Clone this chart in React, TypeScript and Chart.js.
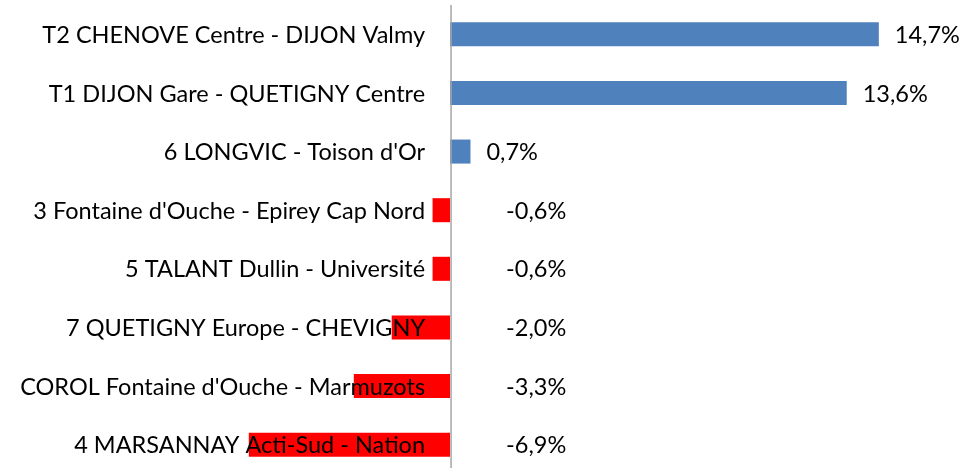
import React, { useEffect, useRef } from "react";
import { Chart, registerables } from "chart.js";

Chart.register(...registerables);

const categories = [
  "T2 CHENOVE Centre - DIJON Valmy",
  "T1 DIJON Gare - QUETIGNY Centre",
  "6 LONGVIC - Toison d'Or",
  "3 Fontaine d'Ouche - Epirey Cap Nord",
  "5 TALANT Dullin - Université",
  "7 QUETIGNY Europe - CHEVIGNY",
  "COROL Fontaine d'Ouche - Marmuzots",
  "4 MARSANNAY Acti-Sud - Nation",
];
const values = [14.7, 13.6, 0.7, -0.6, -0.6, -2.0, -3.3, -6.9];
const valueLabels = ["14,7%", "13,6%", "0,7%", "-0,6%", "-0,6%", "-2,0%", "-3,3%", "-6,9%"];

const FONT = "23.5px Lato, 'Open Sans', sans-serif";

const labelPlugin = {
  id: "labelPlugin",
  afterDatasetsDraw(chart: any) {
    const ctx = chart.ctx;
    const xs = chart.scales.x;
    const meta = chart.getDatasetMeta(0);
    const zero = xs.getPixelForValue(0);
    ctx.save();
    ctx.strokeStyle = "#A6A6A6";
    ctx.lineWidth = 1.5;
    ctx.beginPath();
    ctx.moveTo(zero + 1, chart.chartArea.top);
    ctx.lineTo(zero + 1, chart.chartArea.bottom);
    ctx.stroke();
    ctx.font = FONT;
    ctx.fillStyle = "#000";
    ctx.textBaseline = "middle";
    meta.data.forEach((bar: any, i: number) => {
      const y = bar.y + 1;
      ctx.textAlign = "right";
      ctx.fillText(categories[i], zero - 25, y);
      ctx.textAlign = "left";
      const v = values[i];
      const x = v >= 0 ? xs.getPixelForValue(v) + 16 : zero + 56;
      ctx.fillText(valueLabels[i], x, y);
    });
    ctx.restore();
  },
};

export default function App() {
  const ref = useRef<HTMLCanvasElement>(null);
  useEffect(() => {
    const chart = new Chart(ref.current!, {
      type: "bar",
      data: {
        labels: categories,
        datasets: [
          {
            data: values,
            backgroundColor: values.map((v) => (v >= 0 ? "#4F81BD" : "#FF0000")),
            borderWidth: 0,
            categoryPercentage: 1,
            barPercentage: 0.41,
          },
        ],
      },
      options: {
        indexAxis: "y",
        animation: false,
        responsive: false,
        maintainAspectRatio: false,
        layout: { padding: { top: 5, bottom: 0, left: 0, right: 0 } },
        plugins: { legend: { display: false }, tooltip: { enabled: false } },
        scales: {
          x: { display: false, min: -15.43, max: 17.62 },
          y: { display: false },
        },
      },
      plugins: [labelPlugin],
    });
    return () => chart.destroy();
  }, []);
  return (
    <div style={{ position: "fixed", left: 0, top: 0, width: 964, height: 474, background: "#fff" }}>
      <canvas ref={ref} width={964} height={474} style={{ width: 964, height: 474 }} />
    </div>
  );
}
